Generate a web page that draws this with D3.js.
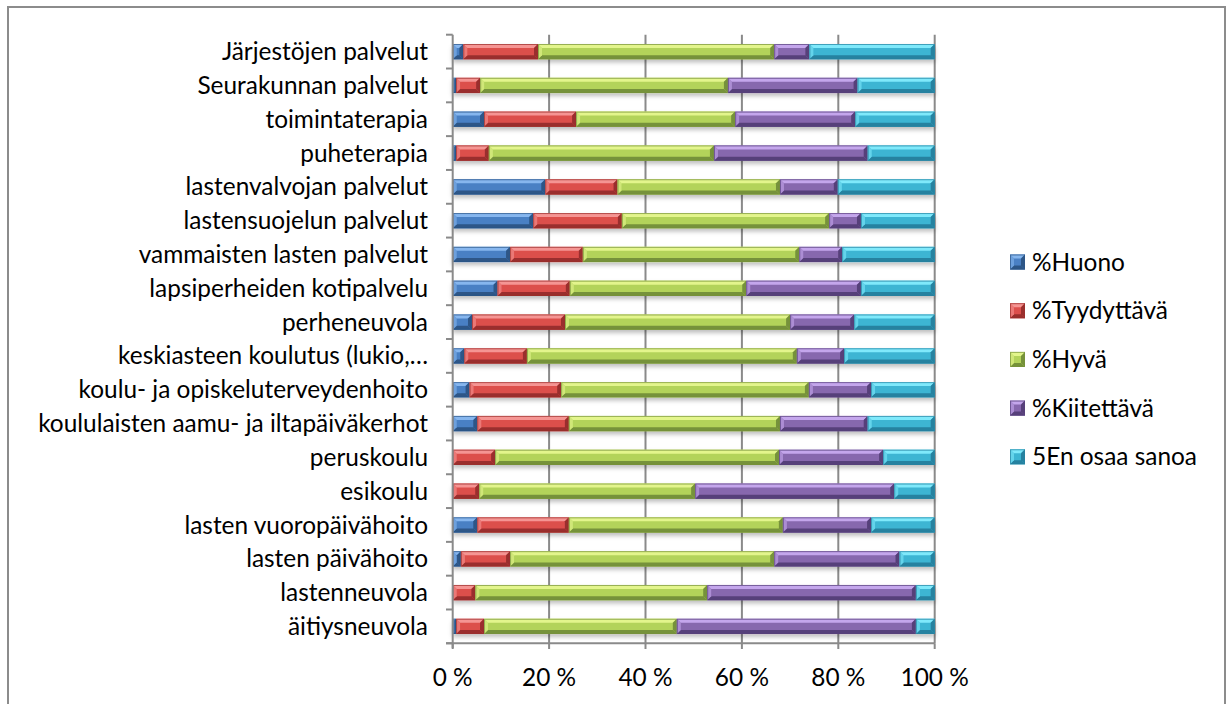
<!DOCTYPE html>
<html>
<head>
  <meta charset="utf-8">
  <title>palvelut</title>
  <script src="https://d3js.org/d3.v7.min.js"></script>
  <style>
    body { margin: 0; background: #fff; }
    text { font-family: Lato, "Open Sans", sans-serif; fill: #000; }
  </style>
</head>
<body>
  <div id="chart"></div>
  <script>
    // categories, top to bottom as in the picture
    var categories = ["Järjestöjen palvelut", "Seurakunnan palvelut", "toimintaterapia", "puheterapia",
      "lastenvalvojan palvelut", "lastensuojelun palvelut", "vammaisten lasten palvelut",
      "lapsiperheiden kotipalvelu", "perheneuvola", "keskiasteen koulutus (lukio,…",
      "koulu- ja opiskeluterveydenhoito", "koululaisten aamu- ja iltapäiväkerhot", "peruskoulu",
      "esikoulu", "lasten vuoropäivähoito", "lasten päivähoito", "lastenneuvola", "äitiysneuvola"]
    var seriesNames = ["%Huono", "%Tyydyttävä", "%Hyvä", "%Kiitettävä", "5En osaa sanoa"]
    var huono = [2.2, 0.7, 6.5, 0.7, 19.2, 16.7, 11.9, 9.3, 4.0, 2.4, 3.5, 5.1, 0, 0, 5.1, 1.7, 0, 0.7]
    var tyydyttava = [15.5, 5.0, 19.1, 6.8, 15.0, 18.4, 15.1, 15.0, 19.3, 13.0, 19.0, 19.0, 8.8, 5.5, 19.0, 10.2, 4.7, 5.8]
    var hyva = [49.0, 51.4, 33.0, 46.7, 33.7, 43.0, 44.9, 36.6, 46.7, 56.0, 51.4, 43.8, 58.9, 44.8, 44.4, 54.8, 48.1, 40.0]
    var kiitettava = [7.3, 26.9, 24.9, 31.9, 12.0, 6.6, 8.9, 23.8, 13.3, 9.8, 12.9, 18.2, 21.6, 41.3, 18.3, 26.0, 43.3, 49.6]
    var enOsaa = [26.0, 16.0, 16.5, 13.9, 20.1, 15.3, 19.2, 15.3, 16.7, 18.8, 13.2, 13.9, 10.7, 8.4, 13.2, 7.3, 3.9, 3.9]
    var xTicks = [0, 20, 40, 60, 80, 100]

    // face, top highlight, bottom shade for each series
    var faces = ["#4a80c4", "#dc4f4c", "#b3d35a", "#8767ae", "#3db5d3"]
    var lights = ["#86b6ee", "#f59593", "#e3f58c", "#c4a6ec", "#7fe9fb"]
    var darks = ["#2d5687", "#9a2f2d", "#76923a", "#57407a", "#2682a0"]

    var W = 1231, H = 704
    var svg = d3.select("#chart").append("svg").attr("width", W).attr("height", H)

    var defs = svg.append("defs")
    var f = defs.append("filter").attr("id", "shadow").attr("x", "-5%").attr("y", "-50%").attr("width", "110%").attr("height", "250%")
    f.append("feDropShadow").attr("dx", 0).attr("dy", 3).attr("stdDeviation", 2)
      .attr("flood-color", "#000").attr("flood-opacity", 0.25)

    // outer frame
    svg.append("rect").attr("x", 8).attr("y", 7).attr("width", 1217).attr("height", 720)
      .attr("fill", "#fff").attr("stroke", "#8c8c8c").attr("stroke-width", 2)

    var x = d3.scaleLinear().domain([0, 100]).range([452.7, 934.7])
    var y = d3.scaleBand().domain(categories).range([34.7, 643.3]).paddingInner(0.55).paddingOuter(0.275)

    // gridlines
    svg.append("g").selectAll("line").data(xTicks.slice(1)).enter().append("line")
      .attr("x1", d => x(d)).attr("x2", d => x(d))
      .attr("y1", 34.7).attr("y2", 643.3)
      .attr("stroke", "#8a8a8a").attr("stroke-width", 2)

    // stacked data
    var allSeries = [huono, tyydyttava, hyva, kiitettava, enOsaa]
    var rows = categories.map((c, i) => {
      var o = { cat: c }
      seriesNames.forEach((s, k) => o[s] = allSeries[k][i])
      return o
    })
    var stacked = d3.stack().keys(seriesNames).offset(d3.stackOffsetExpand)(rows)

    function bevel(g, x0, x1, y0, y1, k) {
      var w = x1 - x0
      if (w <= 0.3) return
      var b = Math.min(4, w / 2)
      g.append("rect").attr("x", x0).attr("y", y0).attr("width", w).attr("height", y1 - y0).attr("fill", faces[k])
      g.append("polygon").attr("points", [[x0, y0], [x1, y0], [x1 - b, y0 + b], [x0 + b, y0 + b]].join(" ")).attr("fill", lights[k])
      g.append("polygon").attr("points", [[x0, y1], [x1, y1], [x1 - b, y1 - b], [x0 + b, y1 - b]].join(" ")).attr("fill", darks[k])
      g.append("polygon").attr("points", [[x0, y0], [x0 + b, y0 + b], [x0 + b, y1 - b], [x0, y1]].join(" ")).attr("fill", lights[k]).attr("opacity", 0.6)
      g.append("polygon").attr("points", [[x1, y0], [x1 - b, y0 + b], [x1 - b, y1 - b], [x1, y1]].join(" ")).attr("fill", darks[k])
      g.append("rect").attr("x", x0 + 0.5).attr("y", y0 + 0.5).attr("width", Math.max(0, w - 1)).attr("height", y1 - y0 - 1)
        .attr("fill", "none").attr("stroke", darks[k]).attr("stroke-width", 1).attr("stroke-opacity", 0.7)
    }

    var barsG = svg.append("g")
    categories.forEach((c, i) => {
      var rowG = barsG.append("g").attr("filter", "url(#shadow)")
      var y0 = y(c), y1 = y(c) + y.bandwidth()
      stacked.forEach((s, k) => {
        bevel(rowG, x(s[i][0] * 100), x(s[i][1] * 100), y0, y1, k)
      })
    })

    // left axis with ticks between categories
    var axisG = svg.append("g")
    axisG.append("line").attr("x1", 452.7).attr("x2", 452.7).attr("y1", 34.7).attr("y2", 648)
      .attr("stroke", "#8a8a8a").attr("stroke-width", 2)
    axisG.selectAll(".yt").data(d3.range(categories.length + 1)).enter().append("line")
      .attr("x1", 446).attr("x2", 452.7)
      .attr("y1", i => 34.7 + i * y.step()).attr("y2", i => 34.7 + i * y.step())
      .attr("stroke", "#8a8a8a").attr("stroke-width", 2)
    axisG.append("line").attr("x1", 446).attr("x2", 934.7).attr("y1", 643.3).attr("y2", 643.3)
      .attr("stroke", "#8a8a8a").attr("stroke-width", 2)
    axisG.selectAll(".xt").data(xTicks).enter().append("line")
      .attr("x1", d => x(d)).attr("x2", d => x(d)).attr("y1", 643.3).attr("y2", 649)
      .attr("stroke", "#8a8a8a").attr("stroke-width", 2)

    // category labels, size fitted to the width the original had
    var labels = svg.append("g").selectAll("text").data(categories).enter().append("text")
      .attr("x", 428).attr("y", d => y(d) + y.bandwidth() / 2)
      .attr("dy", "0.35em").attr("text-anchor", "end").attr("font-size", 24).text(d => d)
    var widest = labels.nodes()[11].getComputedTextLength()
    var fs = 24 * 390 / widest
    labels.attr("font-size", fs)

    svg.append("g").selectAll("text").data(xTicks).enter().append("text")
      .attr("x", d => x(d)).attr("y", 686).attr("text-anchor", "middle").attr("font-size", fs)
      .text(d => d + " %")

    // legend
    var leg = svg.append("g")
    seriesNames.forEach((s, k) => {
      var cy = 262 + k * 48.7
      var g = leg.append("g")
      bevel(g, 1010, 1025, cy - 7.5, cy + 7.5, k)
      g.append("text").attr("x", 1032).attr("y", cy).attr("dy", "0.35em").attr("font-size", fs).text(s)
    })
  </script>
</body>
</html>
